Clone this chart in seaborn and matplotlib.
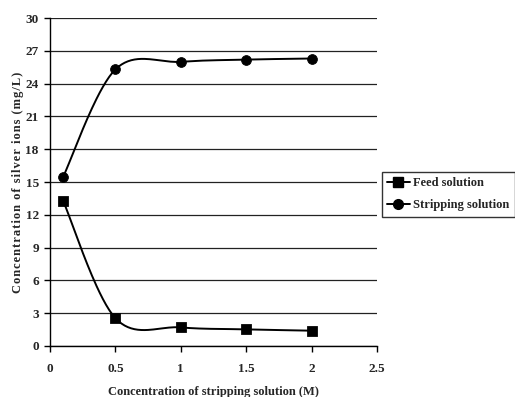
import numpy as np
import pandas as pd
import matplotlib
matplotlib.use("Agg")
import matplotlib.pyplot as plt
from matplotlib.lines import Line2D
import seaborn as sns

# Measured concentrations
stripping_conc = [0.1, 0.5, 1.0, 1.5, 2.0]
feed_values = [13.3, 2.55, 1.7, 1.52, 1.4]
stripping_values = [15.45, 25.3, 26.0, 26.2, 26.3]
series_names = ["Feed solution", "Stripping solution"]
y_ticks = [0, 3, 6, 9, 12, 15, 18, 21, 24, 27, 30]
x_ticks = [0, 0.5, 1, 1.5, 2, 2.5]
x_tick_labels = ["0", "0.5", "1", "1.5", "2", "2.5"]


def smooth_curve(x, y, n=40):
    """Cubic Bezier smoothing through every point (Catmull-Rom style)."""
    p = np.column_stack([x, y]).astype(float)
    ext = np.vstack([p[0], p, p[-1]])
    out = []
    t = np.linspace(0, 1, n)[:, None]
    for i in range(len(p) - 1):
        p0, p1, p2, p3 = ext[i], ext[i + 1], ext[i + 2], ext[i + 3]
        c1 = p1 + (p2 - p0) / 6.0
        c2 = p2 - (p3 - p1) / 6.0
        seg = ((1 - t) ** 3) * p1 + 3 * ((1 - t) ** 2) * t * c1 \
            + 3 * (1 - t) * t ** 2 * c2 + t ** 3 * p2
        out.append(seg if i == 0 else seg[1:])
    s = np.vstack(out)
    return s[:, 0], s[:, 1]


def spaced(text):
    """Widen the tracking of a label with hair spaces."""
    return "\u200a".join(text)


sns.set_theme(style="white")
plt.rcParams["font.family"] = ["Liberation Serif", "DejaVu Serif"]
plt.rcParams["font.weight"] = "bold"

fig = plt.figure(figsize=(5.15, 3.97), dpi=100)
ax = fig.add_axes([0.097, 0.1285, 0.635, 0.826])

markers = ["s", "o"]
for name, vals, mk in zip(series_names, [feed_values, stripping_values], markers):
    sx, sy = smooth_curve(stripping_conc, vals)
    curve = pd.DataFrame({"x": sx, "y": sy})
    sns.lineplot(data=curve, x="x", y="y", sort=False, color="black",
                 linewidth=1.4, ax=ax, legend=False)
    pts = pd.DataFrame({"x": stripping_conc, "y": vals})
    sns.scatterplot(data=pts, x="x", y="y", marker=mk, color="black",
                    s=50, edgecolor="black", ax=ax, legend=False, zorder=5)

ax.set_xlim(0, 2.5)
ax.set_ylim(0, 30)
ax.set_xticks(x_ticks)
ax.set_xticklabels(x_tick_labels)
ax.set_yticks(y_ticks)
ax.yaxis.grid(True, color="#222222", linewidth=0.9)
ax.set_axisbelow(True)
for side in ["top", "right"]:
    ax.spines[side].set_visible(False)
for side in ["left", "bottom"]:
    ax.spines[side].set_color("black")
    ax.spines[side].set_linewidth(1.0)
ax.tick_params(axis="both", direction="out", length=4, width=1, color="black",
               labelsize=9.5, bottom=True, left=True)
ax.tick_params(axis="x", pad=8)
ax.tick_params(axis="y", pad=4)
for lab in ax.get_xticklabels() + ax.get_yticklabels():
    lab.set_fontweight("bold")

ax.set_xlabel("Concentration of stripping solution (M)", fontsize=9,
              fontweight="bold", labelpad=8)
ax.set_ylabel(spaced("Concentration of silver ions (mg/L)"), fontsize=9,
              fontweight="bold", labelpad=1)

handles = [Line2D([0], [0], color="black", linewidth=1.4, marker=m,
                  markersize=7) for m in markers]
leg = fig.legend(handles, series_names, loc="upper left",
                 bbox_to_anchor=(0.741, 0.568), frameon=True, fancybox=False,
                 edgecolor="black", fontsize=9, handlelength=1.8,
                 handletextpad=0.3, borderpad=0.45, borderaxespad=0,
                 labelspacing=0.8)
leg.get_frame().set_linewidth(1.0)
for t in leg.get_texts():
    t.set_fontweight("bold")

fig.savefig("out.png", dpi=100)
